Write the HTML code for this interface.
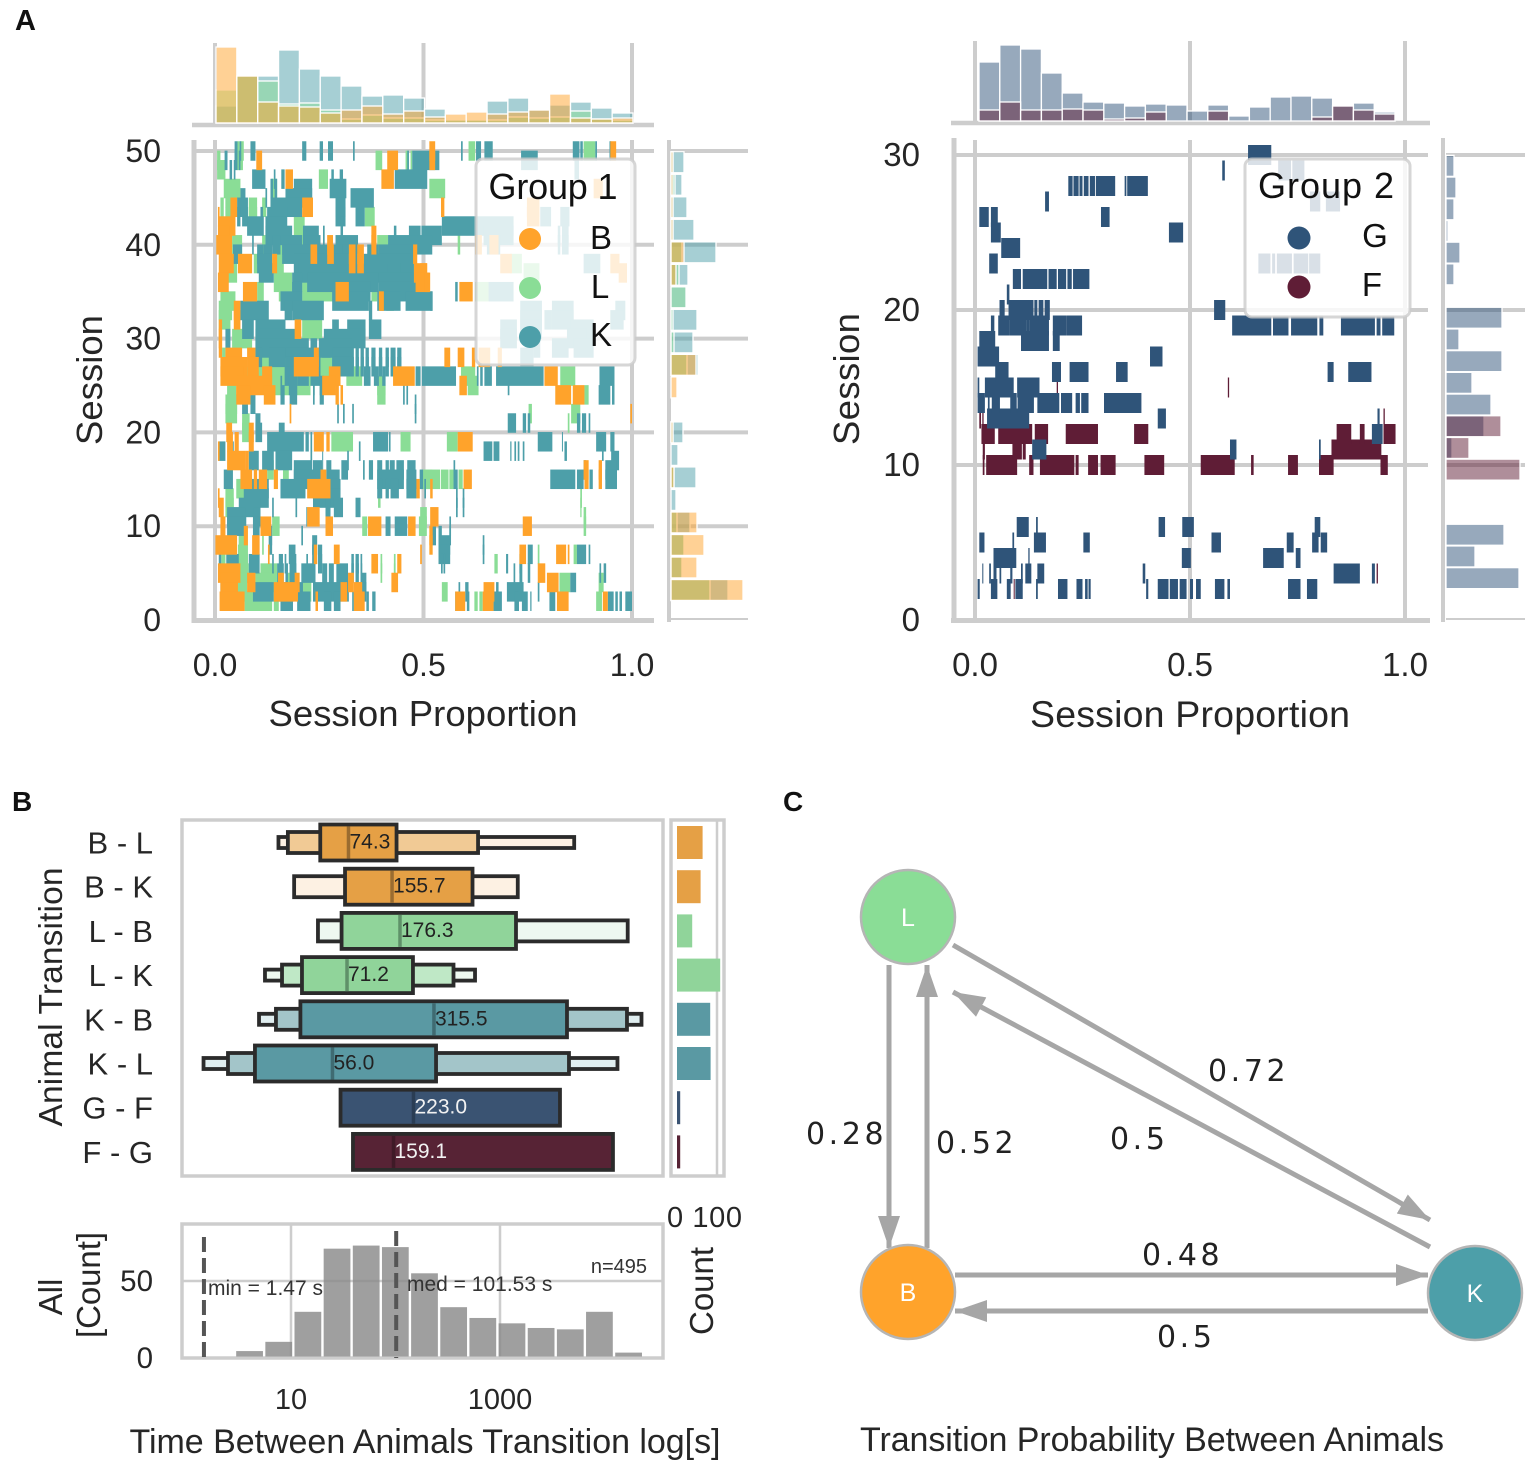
<!DOCTYPE html>
<html lang="en">
<head>
<meta charset="utf-8">
<title>Animal transitions figure</title>
<style>
html,body{margin:0;padding:0;background:#fff;width:1535px;height:1467px;overflow:hidden}
svg{display:block}
text{font-family:"Liberation Sans",Arial,sans-serif;fill:#262626}
.net{font-family:"DejaVu Sans",sans-serif;font-size:30px;letter-spacing:3.6px;fill:#222}
</style>
</head>
<body>
<svg id="fig" xmlns="http://www.w3.org/2000/svg" width="1535" height="1467" viewBox="0 0 1535 1467">
<defs>
<marker id="ah" markerUnits="userSpaceOnUse" markerWidth="34" markerHeight="24" refX="32" refY="12" orient="auto"><path d="M0,1 L32,12 L0,23 Z" fill="#a6a6a6"/></marker>
</defs>
<text x="15" y="30" font-size="29" font-weight="bold" style="fill:#111">A</text>
<text x="12" y="811" font-size="28" font-weight="bold" style="fill:#111">B</text>
<text x="783" y="811" font-size="28" font-weight="bold" style="fill:#111">C</text>

<g id="panelA1"></g>
<g id="panelA2"></g>

<text transform="translate(102,380) rotate(-90)" text-anchor="middle" font-size="36.5" textLength="130">Session</text>
<text transform="translate(859,379) rotate(-90)" text-anchor="middle" font-size="36.5" textLength="132">Session</text>
<text x="423" y="726" text-anchor="middle" font-size="36.5" textLength="309">Session Proportion</text>
<text x="1190" y="727" text-anchor="middle" font-size="37.5" textLength="320">Session Proportion</text>

<g>
<rect x="476" y="159" width="159" height="206" rx="7" fill="#fff" fill-opacity="0.82" stroke="#ccc" stroke-opacity="0.8" stroke-width="3"/>
<text x="553" y="199" text-anchor="middle" font-size="36" textLength="129" style="fill:#111">Group 1</text>
<circle cx="530" cy="239" r="11" fill="#ffa32b"/>
<text x="601" y="249" text-anchor="middle" font-size="33" style="fill:#111">B</text>
<circle cx="530" cy="288" r="11" fill="#8add96"/>
<text x="600" y="298" text-anchor="middle" font-size="33" style="fill:#111">L</text>
<circle cx="530" cy="337" r="11" fill="#4d9fa9"/>
<text x="601" y="346" text-anchor="middle" font-size="33" style="fill:#111">K</text>
</g>
<g>
<rect x="1245" y="159" width="165" height="158" rx="7" fill="#fff" fill-opacity="0.82" stroke="#ccc" stroke-opacity="0.8" stroke-width="3"/>
<text x="1326" y="198" text-anchor="middle" font-size="36" textLength="136" style="fill:#111">Group 2</text>
<circle cx="1299" cy="238" r="11.5" fill="#2f5479"/>
<text x="1375" y="247" text-anchor="middle" font-size="33" style="fill:#111">G</text>
<circle cx="1299" cy="287" r="11.5" fill="#5f1d36"/>
<text x="1372" y="296" text-anchor="middle" font-size="33" style="fill:#111">F</text>
</g>

<g id="panelB"></g>
<text transform="translate(62,997) rotate(-90)" text-anchor="middle" font-size="33.5" textLength="259">Animal Transition</text>
<text transform="translate(62,1297) rotate(-90)" text-anchor="middle" font-size="33">All</text>
<text transform="translate(100,1285) rotate(-90)" text-anchor="middle" font-size="33" textLength="106">[Count]</text>
<text transform="translate(713,1291) rotate(-90)" text-anchor="middle" font-size="33" textLength="88">Count</text>
<text x="425" y="1453" text-anchor="middle" font-size="34" textLength="591">Time Between Animals Transition log[s]</text>

<g>
<line x1="889" y1="965" x2="889" y2="1248" stroke="#a6a6a6" stroke-width="5" marker-end="url(#ah)"/>
<line x1="927" y1="1248" x2="927" y2="965" stroke="#a6a6a6" stroke-width="5" marker-end="url(#ah)"/>
<line x1="953" y1="945" x2="1430" y2="1220" stroke="#a6a6a6" stroke-width="5" marker-end="url(#ah)"/>
<line x1="1430" y1="1247" x2="953" y2="992" stroke="#a6a6a6" stroke-width="5" marker-end="url(#ah)"/>
<line x1="955" y1="1275" x2="1428" y2="1275" stroke="#a6a6a6" stroke-width="5" marker-end="url(#ah)"/>
<line x1="1428" y1="1311" x2="955" y2="1311" stroke="#a6a6a6" stroke-width="5" marker-end="url(#ah)"/>
<circle cx="908" cy="917" r="47" fill="#8add96" stroke="#b5b5b5" stroke-width="2.5"/>
<circle cx="908" cy="1292" r="47" fill="#ffa32b" stroke="#b5b5b5" stroke-width="2.5"/>
<circle cx="1475" cy="1293" r="47" fill="#4d9fa9" stroke="#b5b5b5" stroke-width="2.5"/>
<text x="908" y="926" text-anchor="middle" font-size="25" style="fill:#fff">L</text>
<text x="908" y="1301" text-anchor="middle" font-size="25" style="fill:#fff">B</text>
<text x="1475" y="1302" text-anchor="middle" font-size="25" style="fill:#fff">K</text>
<text class="net" x="806" y="1144">0.28</text>
<text class="net" x="936" y="1153">0.52</text>
<text class="net" x="1208" y="1081">0.72</text>
<text class="net" x="1110" y="1149">0.5</text>
<text class="net" x="1142" y="1265">0.48</text>
<text class="net" x="1157" y="1347">0.5</text>
<text x="1152" y="1451" text-anchor="middle" font-size="34" textLength="584">Transition Probability Between Animals</text>
</g>
</svg>
<script>
// ===== Panel A, Group 1. Event rows: [session, start, end, start, end, ...] with start/end in thousandths of the session.
const eventsK = [
[50,47,54,59,63,85,97,209,219,251,259,271,283,331,335,590,594,626,638,646,666,858,874,876,882,912,916,946,950],
[49,23,30,47,54,57,61,461,465,473,526,526,538,734,774],
[48,35,41,45,49,862,873],
[47,89,121,141,145,159,167,279,285,299,307,431,509],
[46,133,139,143,149,189,233,275,315],
[45,61,73,121,125,169,233,325,381],
[44,53,79,133,209,289,313],
[43,53,61,65,79,109,115,125,173,289,313,337,359,780,806,828,850],
[42,77,117,121,173,301,307,544,716],
[41,121,185,211,249,259,263,429,435,465,493,495,544,644,716,822,828,832,848],
[40,89,93,125,133,137,157,161,209,211,253,289,343,415,521,652,684,822,828,832,848],
[39,43,65,101,117,117,137,161,229,247,305,305,345,365,393,393,473],
[38,101,137,189,321,357,477,884,924],
[37,105,141,201,413,445,477],
[36,185,209,221,393,393,505],
[35,185,209,281,289,321,373,393,501,576,582,656,716],
[34,157,209,281,369,389,445,457,521,516,522],
[33,61,129,167,185,185,261,369,377,732,784,808,860,960,984],
[32,732,784,790,808,808,860,948,980],
[31,65,93,97,169,281,297,317,361,369,399,684,724,732,784,852,908],
[30,25,37,97,193,261,361,684,724,844,892],
[29,97,225,229,245,249,277,257,329,764,780,808,848,860,908],
[28,97,113,129,169,169,253,281,333,337,345,349,357,361,369,375,385,393,401,409,417,421,433,437,447,732,764],
[27,169,189,281,333,337,345,349,357,361,369,375,385,393,401,409,417,421,433,437,447],
[26,167,193,197,225,229,253,357,373,381,393,401,409,481,493,496,578,628,632,636,642,646,664,674,788,922,958],
[25,157,161,177,197,235,239,251,261,702,706],
[24,157,167,179,197,235,239,251,261,451,455,459,463,920,948,952,958],
[23,65,79,85,97,479,483],
[22,293,297,307,311,329,333,479,483],
[21,97,109,702,722,738,746,750,756,868,876,880,890,896,900],
[20,97,113,153,167],
[19,125,213,217,225,229,233,379,415,417,421,774,809,832,834,914,938,948,958],
[18,9,25,41,45,345,349,644,665,668,682,708,711,718,722,726,730,738,742,838,844,928,932],
[17,81,105,113,141,145,185,229,233,257,259,317,321,950,969],
[16,189,233,235,257,267,279,303,319,355,359,369,379,389,401,409,417,419,431,435,453,461,481,572,576,884,890,936,964],
[15,21,43,189,265,269,299,389,453,459,483,491,499,572,582,804,864,868,884,898,906,936,964],
[14,81,129,157,217,233,253,277,301,389,401,409,417,421,441,459,483,502,506],
[13,69,129,235,301,578,582,594,598],
[12,57,109,137,141,193,197,265,277,285,307,337,349,578,582,594,598],
[11,29,73,93,109,219,221],
[10,29,75,91,107,409,421,431,461,562,566],
[9,129,137,207,211,520,530,536,544,562,566],
[8,129,137,233,245,536,564,642,646],
[7,177,193,233,245,247,257,536,564,642,646,750,762,868,890,896,900],
[6,9,15,27,57,81,107,137,141,153,163,167,171,179,195,219,223,247,257,327,333,337,345,349,353,542,546,548,552,698,703,730,734],
[5,149,165,169,175,179,195,207,241,257,269,273,285,291,319,327,333,337,345,349,353,716,720,730,737,750,756,922,926,932,938],
[4,13,17,169,173,349,363,852,866],
[3,91,141,149,189,199,211,235,321,345,363,584,588,600,608,674,680,700,740,774,778],
[2,157,187,197,229,261,279,285,301,329,333,363,369,377,385,576,580,604,610,668,688,718,729,736,750,756,759,802,816,832,836,942,956,960,966,970,976,984,1000]
];
const eventsL = [
[50,54,59,61,69,608,624,884,912],[49,5,13,53,67,385,401,457,465,469,473],[48,5,25],[47,249,271],
[46,21,61,135,149,514,552],[45,25,53],[44,13,21,25,49,81,101,113,123],[43,25,49,81,101,359,383],
[42,189,215],[41,197,211],[40,41,65,113,121,389,415,582,588],[39,15,31,141,161],
[38,21,53,93,109,141,165,433,441,708,736],[37,25,53,740,778],[36,141,185,415,437],
[35,101,117,153,185,209,281,375,389,624,656],[34,13,49,411,429],[33,9,41],[32,9,37],[31,209,257],
[30,41,89],[28,17,25,253,281],[27,105,169,253,281],[26,73,113,137,165,315,353,590,624,828,864],
[25,137,229,389,409,606,632],[24,29,51,389,409,886,896],[23,25,53],[22,25,53,752,760,854,876],
[21,65,83,846,850],[20,65,83],[19,279,331,445,469,556,582],[16,125,141],
[15,163,177,491,521,492,540,542,560,562,572,584,594],[14,51,73],[13,25,45,391,397,876,880],[12,25,45,876,879],
[11,33,43,492,508,884,890],[10,137,155,353,365,489,507,492,508,884,890],[9,57,65],[8,57,73,113,117],
[7,55,79,774,778,860,868],[6,15,25,57,79,397,401,429,433,670,678],[5,61,81,109,149,397,401,429,433],
[4,45,77,97,149,175,197,826,852,920,932],[3,45,77,103,125,211,231,544,558],
[2,71,137,141,153,622,630,634,642,914,928]
];
const eventsB = [
[50,514,528,948,962],[49,99,113,413,439,514,528],[47,169,187,399,429],[46,908,930],
[44,37,53,209,235,542,550,748,778],[43,7,11,748,778],[42,9,49],[41,7,35,375,387],
[40,3,41,269,283,375,387,624,640,658,680],[39,229,245,269,285,321,337,341,357,475,485],
[38,9,45,55,89,137,149,321,337,341,357,684,712,948,970],[37,477,509,492,508,968,988],
[36,7,33,481,513,502,516],[35,67,101,289,321,586,618],[34,393,405],[33,45,61],[32,45,61],
[31,9,17,191,207],[30,9,17],[29,9,17],
[28,25,65,77,97,237,249,550,564,582,598,616,624,632,660,678,688],
[27,13,77,77,105,189,249],[26,13,69,113,137,273,301,427,479,790,822],
[25,51,137,257,289,586,604],[24,51,85,117,145,289,297,301,307,816,854,858,886],
[22,179,183,996,1000],[20,27,41,81,93],[19,29,43,47,57,81,93,237,261,267,275,582,618],[18,7,11],
[17,29,73,73,81],[16,884,896,920,928],[15,61,89,93,101,105,125,141,151,253,267,596,616,886,896,920,928],
[14,221,277,483,491,516,522],[13,7,11],[12,9,21],[11,221,251,516,536],
[10,13,25,109,135,265,283,367,399,463,481,738,760],[9,69,79,514,522],[8,1,53,89,107,514,522],
[7,127,131,237,245,285,299,492,496,730,746,818,842,846,850],[6,375,391,437,447],
[5,7,61,774,792],[4,13,45,77,97,151,165,191,203,319,333,423,439,796,824],
[3,13,55,141,199,301,317,333,353,644,670],[2,11,71,241,247,333,359,576,600,642,668,820,848,930,942]
];
const topK = [17,47,47,73,54,47,37,27,28,25,14,4,3,22,25,13,18,21,15,10];
const topL = [33,47,42,19,20,13,4,8,5,5,3,3,3,3,6,5,6,12,4,3];
const topB = [76,47,21,17,16,10,13,17,9,12,6,9,11,9,11,13,29,5,4,5];
const sideK = [57,11,13,19,5,25,7,12,0,0,27,22,26,16,17,45,23,16,11,13];
const sideL = [39,11,13,6,0,3,0,2,0,0,16,3,2,15,8,11,2,2,4,2];
const sideB = [72,26,33,26,0,3,0,2,0,6,25,0,0,0,5,13,2,2,2,2];
const sessionTicks1 = [0,10,20,30,40,50];

// ===== Panel A, Group 2.
const eventsG = [
[2,6,11,37,52,74,83,94,111,142,146,193,215,236,250,256,262,264,269,398,403,425,450,453,472,476,492,500,507,514,525,558,580,587,593,728,757,772,796],
[3,17,19,33,37,43,50,57,61,82,87,107,111,117,131,145,161,390,396,834,895,923,930],
[4,43,96,124,127,481,502,670,718,746,757],
[5,10,22,87,91,137,165,252,267,550,572,725,741,784,799,804,819],
[6,97,125,142,146,427,442,482,509,790,803],
[11,133,166,593,608,800,804],
[12,923,948],
[13,28,126,425,444,936,941],
[14,6,23,30,34,39,58,82,97,99,137,145,196,200,226,234,244,247,264,300,387],
[15,6,10,23,90,98,150],
[16,47,78,179,200,220,264,328,355,820,834,868,922],
[17,6,56,407,436],
[18,10,47,107,172,181,197],
[19,37,45,54,80,80,120,120,127,127,172,181,212,212,249,598,689,693,729,735,796,801,810,851,930,934,943,947,975],
[20,57,69,78,136,138,145,148,159,162,174,556,582],
[21,74,80],
[22,88,107,111,168,171,190,193,212,215,225,228,266],
[23,33,53,659,687,691,698,702,737,741,775,777,803],
[24,61,105],
[25,37,60,451,484],
[26,10,32,37,53,293,313],
[27,163,172,779,803,816,849],
[28,217,227,229,241,243,250,253,264,267,279,281,326,348,352,354,402],
[29,575,581,705,735,738,766],
[30,635,689]
];
const eventsF = [
[2,90,92],[3,934,937],
[10,18,22,26,98,126,136,151,231,234,241,263,286,292,327,394,440,525,604,642,648,728,751,800,834,943,960],
[11,18,23,87,109,111,118,829,945],
[12,15,46,54,133,139,170,211,286,370,403,841,875,895,906,950,978],
[13,10,14,17,20,39,41,950,953],
[15,190,193,588,591]
];
const topG = [59,76,72,48,28,19,18,15,17,16,10,16,5,14,24,25,23,15,18,9];
const topF = [11,19,11,11,12,11,2,3,9,0,0,10,0,0,0,0,4,15,11,7];
const sideG = [73,29,58,0,0,0,6,38,45,26,56,13,56,0,8,14,2,8,10,8];
const sideF = [0,0,0,0,0,74,23,55,0,0,0,0,0,0,0,0,0,0,0,0];
const sessionTicks2 = [0,10,20,30];
const proportionTicks = [0,0.5,1];

// ===== Panel B. Box edges are log10 seconds.
const transitions = ["B - L","B - K","L - B","L - K","K - B","K - L","G - F","F - G"];
const boxColorKeys = ["B","B","L","L","K","K","G","F"];
const innerLow = [1.28,1.517,1.484,1.105,1.09,0.655,1.474,1.593];
const innerHigh = [2.01,2.737,3.153,2.167,3.641,2.388,3.574,4.081];
const midLow = [0.97,1.03,1.258,0.914,0.856,0.397,null,null];
const midHigh = [2.79,3.17,4.222,2.555,4.215,3.66,null,null];
const outerLow = [0.88,null,null,0.751,0.694,0.163,null,null];
const outerHigh = [3.71,null,null,2.761,4.354,4.124,null,null];
const medianPos = [1.55,1.967,2.043,1.536,2.368,1.397,2.172,1.981];
const medianLabels = ["74.3","155.7","176.3","71.2","315.5","56.0","223.0","159.1"];
const transitionCounts = [64,59,38,108,83,84,8,8];
const histStartLog = 0.464;
const histBinLog = 0.279;
const histCounts = [4.5,10.5,30,71,73,72,55,33,26,22.5,19.5,18.6,30,3.5];
const histYTicks = [0,50];
const timeTicks = [1,3];
const timeTickLabels = ["10","1000"];
const minLog = 0.167;
const medLog = 2.0066;

const NS = "http://www.w3.org/2000/svg";
function mk(tag, attrs, parent, txt) {
  const el = document.createElementNS(NS, tag);
  for (const k in attrs) el.setAttribute(k, attrs[k]);
  if (txt !== undefined) el.textContent = txt;
  parent.appendChild(el);
  return el;
}
function gridLine(parent, x1, y1, x2, y2, w, color) {
  const el = mk("line", {x1:x1, y1:y1, x2:x2, y2:y2, stroke:color || "#cdcdcd", "stroke-width":w}, parent);
  
  
}
function tick(parent, x, y, label, anchor, size) {
  const el = mk("text", {x:x, y:y, "text-anchor":anchor, "font-size":size}, parent, label);
  
  
}
function raster(parent, rows, color, xf, yf, h) {
  rows.forEach(function (row) {
    for (let i = 1; i + 1 < row.length; i += 2) {
      const x0 = xf(row[i] / 1000), x1 = xf(row[i + 1] / 1000);
      const el = mk("rect", {x:x0, y:yf(row[0]) - h / 2, width:Math.max(x1 - x0, 1), height:h, fill:color}, parent);
      
      
    }
  });
}
function topHist(parent, values, color, x0, binW, base) {
  values.forEach(function (v, i) {
    if (!v) return;
    const el = mk("rect", {x:x0 + i * binW, y:base - v, width:binW, height:v, fill:color, "fill-opacity":0.5, stroke:"#fff", "stroke-width":1.3}, parent);
    
    
  });
}
function sideHist(parent, values, color, base, yf, binStart, binSize) {
  values.forEach(function (v, i) {
    if (!v) return;
    const cy = yf(binStart + binSize * (i + 0.5));
    const el = mk("rect", {x:base, y:cy - 10.5, width:v, height:21, fill:color, "fill-opacity":0.5, stroke:"#fff", "stroke-width":1.3}, parent);
    
    
  });
}

/* ---------- Group 1 ---------- */
(function () {
  const g = document.getElementById("panelA1");
  const x = function (p) { return 215 + p * 417; };
  const y = function (s) { return 620 - s * 9.38; };
  proportionTicks.forEach(function (t) {
    gridLine(g, x(t), 43, x(t), 125, 4);
    gridLine(g, x(t), 140, x(t), 621, 4);
    tick(g, x(t), 676, t.toFixed(1), "middle", 32);
  });
  sessionTicks1.forEach(function (t) {
    gridLine(g, 193, y(t), 654, y(t), 4);
    if (t > 0) gridLine(g, 671, y(t), 748, y(t), 4);
    tick(g, 161, y(t) + 11, String(t), "end", 32);
  });
  gridLine(g, 192, 125, 654, 125, 4.5);
  gridLine(g, 194, 140, 194, 623, 5);
  gridLine(g, 192, 620.5, 654, 620.5, 5);
  gridLine(g, 669, 140, 669, 622, 4);
  gridLine(g, 671, 619, 748, 619, 2);
  topHist(g, topK, "#4d9fa9", 216, 20.85, 123);
  topHist(g, topL, "#8add96", 216, 20.85, 123);
  topHist(g, topB, "#ffa32b", 216, 20.85, 123);
  sideHist(g, sideK, "#4d9fa9", 671, y, 2, 2.4);
  sideHist(g, sideL, "#8add96", 671, y, 2, 2.4);
  sideHist(g, sideB, "#ffa32b", 671, y, 2, 2.4);
  raster(g, eventsL, "#8add96", x, y, 19.5);
  raster(g, eventsK, "#4d9fa9", x, y, 19.5);
  raster(g, eventsB, "#ffa32b", x, y, 19.5);
})();

/* ---------- Group 2 ---------- */
(function () {
  const g = document.getElementById("panelA2");
  const x = function (p) { return 975 + p * 430; };
  const y = function (s) { return 620 - s * 15.5; };
  proportionTicks.forEach(function (t) {
    gridLine(g, x(t), 41, x(t), 123, 4);
    gridLine(g, x(t), 140, x(t), 620, 4);
    tick(g, x(t), 676, t.toFixed(1), "middle", 33);
  });
  sessionTicks2.forEach(function (t) {
    gridLine(g, 955, y(t), 1428, y(t), 4);
    if (t > 0) gridLine(g, 1446, y(t), 1525, y(t), 4);
    tick(g, 920, y(t) + 11, String(t), "end", 33);
  });
  gridLine(g, 951, 123, 1430, 123, 4.5);
  gridLine(g, 954, 138, 954, 622, 5);
  gridLine(g, 951, 620.5, 1430, 620.5, 5);
  gridLine(g, 1443, 138, 1443, 622, 4);
  gridLine(g, 1446, 619, 1525, 619, 2);
  topHist(g, topG, "#2f5479", 979, 20.8, 121);
  topHist(g, topF, "#5f1d36", 979, 20.8, 121);
  sideHist(g, sideG, "#2f5479", 1446, y, 2, 1.4);
  sideHist(g, sideF, "#5f1d36", 1446, y, 2, 1.4);
  raster(g, eventsF, "#5f1d36", x, y, 20);
  raster(g, eventsG, "#2f5479", x, y, 20);
})();

/* ---------- Panel B ---------- */
(function () {
  const g = document.getElementById("panelB");
  const x = function (l) { return 291 + (l - 1) * 104.5; };
  const rowY = function (i) { return 842.5 + i * 44.2; };
  const yH = function (c) { return 1358 - c * 1.54; };
  const cx = function (c) { return 677 + c * 0.4; };
  const inner = {B:"#e5a045", L:"#90d49a", K:"#5a99a3", G:"#3a5372", F:"#572335"};
  const mid = {B:"#f1ca95", L:"#bfe8c6", K:"#a3c5c9"};
  const midPale = {B:"#fdf1e3", L:"#eef8f0"};
  const outer = {B:"#fdf1e3", L:"#eef8f0", K:"#e0eef0"};
  const med = {B:"#9a6c30", L:"#5f9169", K:"#3f6b72", G:"#2a3d54", F:"#3f1a27"};

  const frame = mk("rect", {x:182, y:820, width:481, height:356, fill:"none", stroke:"#cdcdcd", "stroke-width":3.5}, g);
  
  
  gridLine(g, cx(100), 820, cx(100), 1176, 2.5);
  const frame2 = mk("rect", {x:671, y:820, width:53, height:356, fill:"none", stroke:"#cdcdcd", "stroke-width":3.5}, g);
  
  

  transitions.forEach(function (name, i) {
    const key = boxColorKeys[i], cy = rowY(i);
    const lab = mk("text", {x:153, y:cy + 11, "text-anchor":"end", "font-size":31}, g, name);
    
    
    const stroke = {stroke:"#2b2b2b", "stroke-width":3.8};
    if (outerLow[i] !== null) {
      const r = mk("rect", Object.assign({x:x(outerLow[i]), y:cy - 5.5, width:x(outerHigh[i]) - x(outerLow[i]), height:11, fill:outer[key]}, stroke), g);
      
      
    }
    if (midLow[i] !== null) {
      const fill = outerLow[i] !== null ? mid[key] : midPale[key];
      const r = mk("rect", Object.assign({x:x(midLow[i]), y:cy - 10.5, width:x(midHigh[i]) - x(midLow[i]), height:21, fill:fill}, stroke), g);
      
      
    }
    const box = mk("rect", Object.assign({x:x(innerLow[i]), y:cy - 18, width:x(innerHigh[i]) - x(innerLow[i]), height:36, fill:inner[key]}, stroke), g);
    
    
    const m = mk("line", {x1:x(medianPos[i]), x2:x(medianPos[i]), y1:cy - 16, y2:cy + 16, stroke:med[key], "stroke-width":3.5}, g);
    
    
    const light = key === "G" || key === "F";
    const t = mk("text", {x:x(medianPos[i]) + 1, y:cy + 6, "font-size":21, style:"fill:" + (light ? "#f2f2f2" : "#222")}, g, medianLabels[i]);
    
    
    const bar = mk("rect", {x:cx(0), y:cy - 16.5, width:transitionCounts[i] * 0.4, height:33, fill:inner[key]}, g);
    
    
  });

  const countTicks = mk("text", {x:667, y:1227, "font-size":29, textLength:75}, g, "0 100");
  
  

  const hf = mk("rect", {x:182, y:1224, width:481, height:134, fill:"none", stroke:"#cdcdcd", "stroke-width":3.5}, g);
  
  
  timeTicks.forEach(function (t, i) {
    gridLine(g, x(t), 1224, x(t), 1358, 2.5);
    tick(g, x(t), 1409, timeTickLabels[i], "middle", 29);
  });
  histYTicks.forEach(function (t) {
    if (t > 0) gridLine(g, 182, yH(t), 663, yH(t), 2.5);
    tick(g, 153, yH(t) + 10, String(t), "end", 29.5);
  });
  histCounts.forEach(function (c, i) {
    const x0 = x(histStartLog + i * histBinLog), x1 = x(histStartLog + (i + 1) * histBinLog);
    const b = mk("rect", {x:x0 + 1.2, y:yH(c), width:x1 - x0 - 2.4, height:1356.5 - yH(c), fill:"#8a8a8a", "fill-opacity":0.82}, g);
    
    
  });
  const d1 = mk("line", {x1:x(minLog), x2:x(minLog), y1:1237, y2:1358, stroke:"#555", "stroke-width":4, "stroke-dasharray":"15 6"}, g);
  
  
  const d2 = mk("line", {x1:x(medLog), x2:x(medLog), y1:1231, y2:1358, stroke:"#555", "stroke-width":4, "stroke-dasharray":"15 6"}, g);
  
  
  const t1 = mk("text", {x:208, y:1295, "font-size":21, style:"fill:#333"}, g, "min = 1.47 s");
  
  
  const t2 = mk("text", {x:407, y:1291, "font-size":21, style:"fill:#333"}, g, "med = 101.53 s");
  
  
  const t3 = mk("text", {x:647, y:1273, "text-anchor":"end", "font-size":20, style:"fill:#333"}, g, "n=495");
  
  
})();
</script>
</body>
</html>
